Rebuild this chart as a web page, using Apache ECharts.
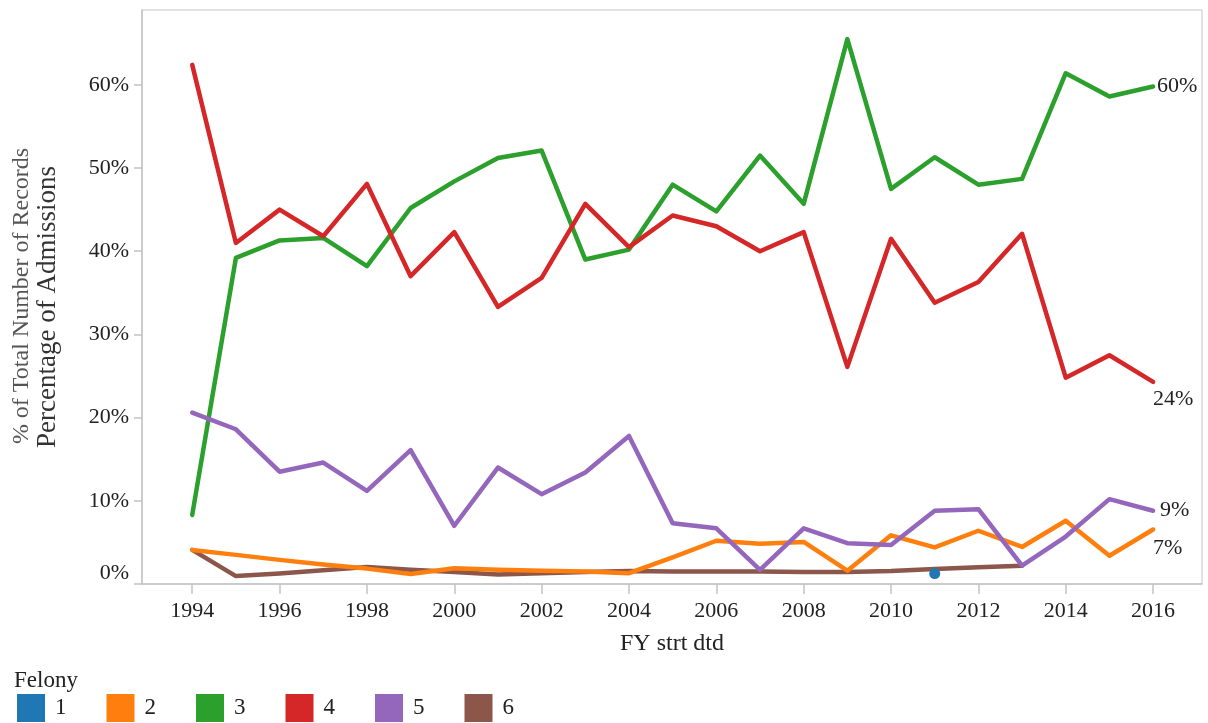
<!DOCTYPE html>
<html><head><meta charset="utf-8">
<script src="https://cdn.jsdelivr.net/npm/echarts@6/dist/echarts.min.js"></script>
<style>html,body{margin:0;padding:0;background:#fff}#c{width:1208px;height:723px}</style>
</head><body><div id="c"></div>
<script>
const years = [1994,1995,1996,1997,1998,1999,2000,2001,2002,2003,2004,2005,2006,2007,2008,2009,2010,2011,2012,2013,2014,2015,2016];
const felony1 = [null,null,null,null,null,null,null,null,null,null,null,null,null,null,null,null,null,1.25,null,null,null,null,null];
const felony2 = [4.1,3.5,2.9,2.35,1.85,1.2,1.9,1.7,1.6,1.5,1.3,3.2,5.2,4.85,5.05,1.6,5.85,4.4,6.4,4.45,7.6,3.4,6.55];
const felony3 = [8.3,39.2,41.3,41.6,38.2,45.2,48.4,51.2,52.1,39.0,40.2,48.0,44.8,51.5,45.7,65.5,47.5,51.3,48.0,48.7,61.4,58.6,59.8];
const felony4 = [62.4,41.0,45.0,41.8,48.1,37.0,42.3,33.3,36.8,45.7,40.5,44.3,43.0,40.0,42.3,26.1,41.5,33.8,36.3,42.1,24.8,27.5,24.3];
const felony5 = [20.6,18.6,13.5,14.6,11.2,16.1,7.0,14.0,10.8,13.4,17.8,7.3,6.7,1.7,6.7,4.9,4.7,8.8,9.0,2.2,5.7,10.2,8.8];
const felony6 = [4.1,0.95,1.25,1.65,2.05,1.7,1.45,1.15,1.3,1.45,1.55,1.5,1.5,1.5,1.45,1.45,1.55,1.8,2.0,2.2,null,null,null];
const xTicks = [1994,1996,1998,2000,2002,2004,2006,2008,2010,2012,2014,2016];
const yTicks = [0,10,20,30,40,50,60];
const names = ['1','2','3','4','5','6'];
const colors = ['#1f77b4','#ff7f0e','#2ca02c','#d62728','#9467bd','#8c564b'];

const FONT = '"Liberation Serif", "Times New Roman", serif';
const TXT = '#222';
const pairs = arr => years.map((y, i) => [y, arr[i]]);

function lineSeries(idx, arr, opts) {
  const s = {
    name: names[idx], type: 'line', data: pairs(arr),
    showSymbol: false, symbol: 'none', connectNulls: false,
    color: colors[idx],
    itemStyle: { color: colors[idx] },
    lineStyle: { color: colors[idx], width: 4.5, cap: 'round', join: 'round' },
    z: 2
  };
  return Object.assign(s, opts || {});
}
function endLab(offset) {
  return {
    show: true, distance: 4, offset: offset,
    formatter: p => Math.round(p.value[1]) + '%',
    fontFamily: FONT, fontSize: 22, color: TXT
  };
}

const chart = echarts.init(document.getElementById('c'));
chart.setOption({
  animation: false,
  backgroundColor: '#fff',
  title: {
    text: 'Felony', left: 9, top: 664,
    textStyle: { fontFamily: FONT, fontSize: 23, fontWeight: 'normal', color: TXT }
  },
  legend: {
    data: names, left: 17, top: 694, icon: 'rect',
    itemWidth: 28, itemHeight: 28, itemGap: 40, padding: 0,
    textStyle: { fontFamily: FONT, fontSize: 23, color: TXT, padding: [0, 0, 0, 5] }
  },
  grid: { left: 142, right: 6, top: 10, bottom: 139, show: true, borderColor: '#c4c4c4', borderWidth: 1 },
  xAxis: {
    type: 'value', min: 1992.85, max: 2017.12,
    name: 'FY strt dtd', nameLocation: 'middle', nameGap: 48,
    nameTextStyle: { fontFamily: FONT, fontSize: 24, color: TXT },
    axisLine: { show: true, lineStyle: { color: '#c4c4c4', width: 1.5 } },
    axisTick: { show: true, length: 10, lineStyle: { color: '#c4c4c4', width: 1.5 }, customValues: xTicks },
    axisLabel: { customValues: xTicks, margin: 16, fontFamily: FONT, fontSize: 22, color: TXT, formatter: v => String(v) },
    splitLine: { show: false }
  },
  yAxis: {
    type: 'value', min: 0, max: 69,
    axisLine: { show: true, lineStyle: { color: '#c4c4c4', width: 1.5 } },
    axisTick: { show: true, length: 8, lineStyle: { color: '#c4c4c4', width: 1.5 }, customValues: yTicks },
    axisLabel: { customValues: yTicks, margin: 13, fontFamily: FONT, fontSize: 22, color: TXT,
      formatter: v => v + '%', verticalAlignMinLabel: 'bottom' },
    splitLine: { show: false }
  },
  graphic: [
    { type: 'text', x: 22, y: 296, rotation: Math.PI / 2,
      style: { text: '% of Total Number of Records', fontFamily: FONT, fontSize: 24, fill: '#555', textAlign: 'center', textVerticalAlign: 'middle' } },
    { type: 'text', x: 48, y: 307, rotation: Math.PI / 2,
      style: { text: 'Percentage of Admissions', fontFamily: FONT, fontSize: 27, fill: '#333', textAlign: 'center', textVerticalAlign: 'middle' } }
  ],
  series: [
    lineSeries(5, felony6, { z: 1 }),
    lineSeries(1, felony2, { endLabel: endLab([-4, 19]) }),
    lineSeries(2, felony3, { endLabel: endLab([0, 0]) }),
    lineSeries(3, felony4, { endLabel: endLab([-4, 17]) }),
    lineSeries(4, felony5, { endLabel: endLab([3, -1]) }),
    lineSeries(0, felony1, { showSymbol: true, symbol: 'circle', symbolSize: 11, z: 3 })
  ]
});
</script>
</body></html>
